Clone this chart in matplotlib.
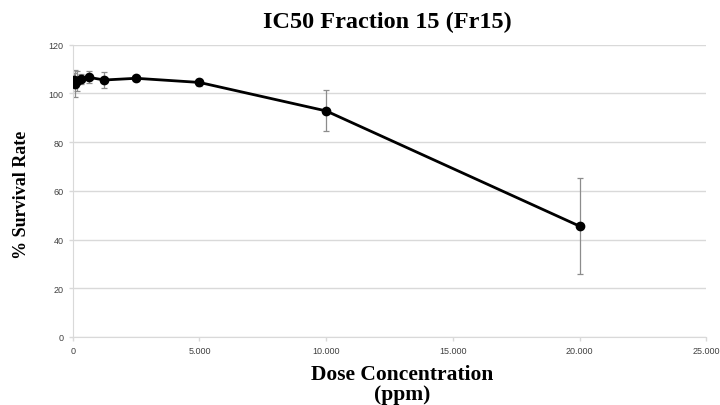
import matplotlib.pyplot as plt
from matplotlib.ticker import FuncFormatter

# dose (ppm), mean survival (%), std dev
dose = [39, 78, 156, 312, 625, 1250, 2500, 5000, 10000, 20000]
survival = [105.5, 104.0, 105.0, 106.0, 106.6, 105.5, 106.2, 104.5, 92.8, 45.5]
err = [3.0, 5.5, 4.0, 2.0, 2.5, 3.3, 1.0, 1.5, 8.4, 19.6]

x_ticks = [0, 5000, 10000, 15000, 20000, 25000]
y_ticks = [0, 20, 40, 60, 80, 100, 120]

fig = plt.figure(figsize=(7.2, 4.06), dpi=100)
ax = fig.add_axes([0.101, 0.1675, 0.88, 0.72])

ax.errorbar(dose, survival, yerr=err, fmt="none", ecolor="#8c8c8c",
            elinewidth=0.9, capsize=2.5, capthick=0.9, zorder=2)
ax.plot(dose, survival, color="black", linewidth=2, marker="o",
        markersize=6, zorder=3)

ax.set_xlim(0, 25000)
ax.set_ylim(0, 120)
ax.set_xticks(x_ticks)
ax.set_yticks(y_ticks)
ax.xaxis.set_major_formatter(FuncFormatter(
    lambda v, p: "0" if v == 0 else f"{int(v):,}".replace(",", ".")))

ax.grid(axis="y", color="#d9d9d9", linewidth=1)
ax.set_axisbelow(True)
for s in ["top", "right"]:
    ax.spines[s].set_visible(False)
for s in ["left", "bottom"]:
    ax.spines[s].set_color("#d9d9d9")
ax.tick_params(axis="both", colors="#d9d9d9", labelcolor="#404040",
               labelsize=6.5, length=3, width=1)
for lbl in ax.get_xticklabels() + ax.get_yticklabels():
    lbl.set_family("Liberation Sans")

serif = "Liberation Serif"
fig.text(0.538, 0.945, "IC50 Fraction 15 (Fr15)", ha="center", va="center",
         fontsize=17.5, fontweight="bold", family=serif)
fig.text(0.558, 0.052, "Dose Concentration\n(ppm)", ha="center", va="center",
         fontsize=15.5, fontweight="bold", family=serif, linespacing=1.0)
fig.text(0.03, 0.52, "% Survival Rate", ha="center", va="center",
         rotation=90, fontsize=13, fontweight="bold", family=serif)

fig.savefig("out.png", dpi=100)
